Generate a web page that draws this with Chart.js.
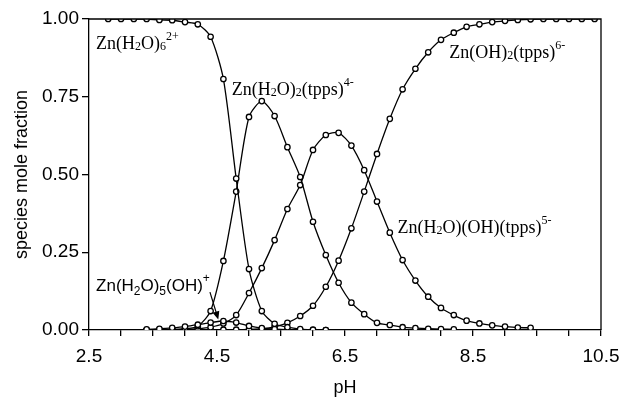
<!DOCTYPE html>
<html>
<head>
<meta charset="utf-8">
<script src="https://cdn.jsdelivr.net/npm/chart.js@4.4.1/dist/chart.umd.min.js"></script>
<style>
  html, body { margin: 0; padding: 0; background: #fff; }
  #myChart { display: block; }
</style>
</head>
<body>
<canvas id="myChart" width="621" height="398"></canvas>
<script>
// pH grid of the computed points
const phValues = [2.8, 3.0, 3.2, 3.4, 3.6, 3.8, 4.0, 4.2, 4.4, 4.6, 4.8, 5.0, 5.2, 5.4, 5.6, 5.8, 6.0, 6.2, 6.4, 6.6,
    6.8, 7.0, 7.2, 7.4, 7.6, 7.8, 8.0, 8.2, 8.4, 8.6, 8.8, 9.0, 9.2, 9.4, 9.6, 9.8, 10.0, 10.2, 10.4];

// Zn(H2O)6 2+
const hexaAqua = [1.0, 1.0, 1.0, 1.0, 0.997, 0.996, 0.99, 0.983, 0.943, 0.807, 0.487, 0.196, 0.061, 0.02, 0.009, 0.003, 0.001, 0.0,
    null, null, null, null, null, null, null, null, null, null, null, null, null, null, null, null, null, null, null, null, null];

// Zn(H2O)5(OH)+
const aquaHydroxo = [null, null, null, 0.002, 0.004, 0.007, 0.011, 0.017, 0.024, 0.029, 0.024, 0.013, 0.006, 0.003, 0.001, 0.0, 0.0, 0.0,
    null, null, null, null, null, null, null, null, null, null, null, null, null, null, null, null, null, null, null, null, null];

// Zn(H2O)2(tpps)4-
const diaquaTpps = [null, null, null, 0.0, 0.001, 0.002, 0.004, 0.012, 0.061, 0.222, 0.445, 0.685, 0.736, 0.688, 0.588, 0.492, 0.348, 0.241,
    0.152, 0.088, 0.051, 0.023, 0.016, 0.009, 0.006, 0.004, 0.003, 0.002,
    null, null, null, null, null, null, null, null, null, null, null];

// Zn(H2O)(OH)(tpps)5-
const aquaHydroxoTpps = [null, null, null, 0.0, 0.0, 0.001, 0.002, 0.004, 0.009, 0.021, 0.048, 0.119, 0.199, 0.289, 0.389, 0.466, 0.579, 0.627,
    0.634, 0.593, 0.514, 0.413, 0.313, 0.225, 0.159, 0.107, 0.071, 0.048, 0.03, 0.021, 0.015, 0.011, 0.008, 0.007,
    null, null, null, null, null];

// Zn(OH)2(tpps)6-
const dihydroxoTpps = [null, null, null, 0.0, 0.0, 0.0, 0.0, 0.0, 0.0, 0.001, 0.001, 0.002, 0.004, 0.01, 0.023, 0.045, 0.078, 0.139,
    0.223, 0.327, 0.445, 0.566, 0.679, 0.774, 0.84, 0.893, 0.933, 0.956, 0.975, 0.983, 0.99, 0.994, 0.997, 0.999,
    1.0, 1.0, 1.0, 1.0, 1.0];

const xTickValues = [2.5, 3.0, 3.5, 4.0, 4.5, 5.0, 5.5, 6.0, 6.5, 7.0, 7.5, 8.0, 8.5, 9.0, 9.5, 10.0, 10.5];
const xTickLabels = ['2.5', '', '', '', '4.5', '', '', '', '6.5', '', '', '', '8.5', '', '', '', '10.5'];

// species labels: [pH, fraction] of the text baseline start, parts: n = normal, sub, sup
const speciesLabels = [
    { x: 2.61, y: 0.905, family: 'serif', parts: [['Zn(H', 'n'], ['2', 'sub'], ['O)', 'n'], ['6', 'sub'], ['2+', 'sup']] },
    { x: 4.73, y: 0.757, family: 'serif', parts: [['Zn(H', 'n'], ['2', 'sub'], ['O)', 'n'], ['2', 'sub'], ['(tpps)', 'n'], ['4-', 'sup']] },
    { x: 8.13, y: 0.873, family: 'serif', parts: [['Zn(OH)', 'n'], ['2', 'sub'], ['(tpps)', 'n'], ['6-', 'sup']] },
    { x: 7.32, y: 0.313, family: 'serif', parts: [['Zn(H', 'n'], ['2', 'sub'], ['O)(OH)(tpps)', 'n'], ['5-', 'sup']] },
    { x: 2.61, y: 0.127, family: 'sans', parts: [['Zn(H', 'n'], ['2', 'sub'], ['O)', 'n'], ['5', 'sub'], ['(OH)', 'n'], ['+', 'sup']] }
];
const arrowFrom = [4.39, 0.122];
const arrowTo = [4.52, 0.034];

function toPoints(values) {
    let points = [];
    for (let i = 0; i < phValues.length; i++) {
        if (values[i] !== null) {
            points.push({ x: phValues[i], y: values[i] });
        }
    }
    return points;
}

function makeDataset(values) {
    return {
        data: toPoints(values),
        borderColor: '#000',
        borderWidth: 1.3,
        pointRadius: 2.7,
        pointBackgroundColor: '#fff',
        pointBorderColor: '#000',
        pointBorderWidth: 1.3,
        tension: 0.25,
        fill: false
    };
}

function drawRichText(ctx, label, px, py) {
    const size = label.family === 'serif' ? 18 : 17;
    const family = label.family === 'serif' ? '"Liberation Serif", "Times New Roman", serif' : '"Liberation Sans", Arial, sans-serif';
    let x = px;
    ctx.textBaseline = 'alphabetic';
    ctx.textAlign = 'left';
    ctx.fillStyle = '#000';
    label.parts.forEach(function (part) {
        let s = size;
        let dy = 0;
        if (part[1] === 'sub') {
            s = Math.round(size * 0.68);
            dy = label.family === 'serif' ? 1 : 4;
        } else if (part[1] === 'sup') {
            s = Math.round(size * 0.68);
            dy = -size * 0.5;
        }
        ctx.font = s + 'px ' + family;
        ctx.fillText(part[0], x, py + dy);
        x += ctx.measureText(part[0]).width;
    });
}

const labelPlugin = {
    id: 'speciesLabels',
    afterDraw: function (chart) {
        const ctx = chart.ctx;
        const xs = chart.scales.x;
        const ys = chart.scales.y;
        const area = chart.chartArea;
        ctx.save();
        // frame on top and right
        ctx.strokeStyle = '#000';
        ctx.lineWidth = 1.3;
        ctx.beginPath();
        ctx.moveTo(area.left, area.top);
        ctx.lineTo(area.right, area.top);
        ctx.lineTo(area.right, area.bottom);
        ctx.stroke();

        speciesLabels.forEach(function (label) {
            drawRichText(ctx, label, xs.getPixelForValue(label.x), ys.getPixelForValue(label.y));
        });

        // arrow
        const x1 = xs.getPixelForValue(arrowFrom[0]);
        const y1 = ys.getPixelForValue(arrowFrom[1]);
        const x2 = xs.getPixelForValue(arrowTo[0]);
        const y2 = ys.getPixelForValue(arrowTo[1]);
        const ang = Math.atan2(y2 - y1, x2 - x1);
        ctx.lineWidth = 1.2;
        ctx.beginPath();
        ctx.moveTo(x1, y1);
        ctx.lineTo(x2 - 6 * Math.cos(ang), y2 - 6 * Math.sin(ang));
        ctx.stroke();
        ctx.beginPath();
        ctx.moveTo(x2, y2);
        ctx.lineTo(x2 - 8 * Math.cos(ang) + 3.5 * Math.sin(ang), y2 - 8 * Math.sin(ang) - 3.5 * Math.cos(ang));
        ctx.lineTo(x2 - 8 * Math.cos(ang) - 3.5 * Math.sin(ang), y2 - 8 * Math.sin(ang) + 3.5 * Math.cos(ang));
        ctx.closePath();
        ctx.fillStyle = '#000';
        ctx.fill();
        ctx.restore();
    }
};

const tickFont = { family: '"Liberation Sans", Arial, sans-serif', size: 19 };
const titleFont = { family: '"Liberation Sans", Arial, sans-serif', size: 18 };

const config = {
    type: 'line',
    data: {
        datasets: [
            makeDataset(hexaAqua),
            makeDataset(aquaHydroxo),
            makeDataset(diaquaTpps),
            makeDataset(aquaHydroxoTpps),
            makeDataset(dihydroxoTpps)
        ]
    },
    options: {
        responsive: false,
        animation: false,
        devicePixelRatio: 1,
        layout: { padding: { top: 19, right: 20, left: 0, bottom: 0 } },
        plugins: {
            legend: { display: false },
            tooltip: { enabled: false }
        },
        scales: {
            x: {
                type: 'linear',
                min: 2.5,
                max: 10.5,
                afterBuildTicks: function (axis) {
                    axis.ticks = xTickValues.map(function (v) { return { value: v }; });
                },
                afterFit: function (scale) {
                    scale.height = 68;
                    scale.paddingLeft = 0;
                    scale.paddingRight = 0;
                },
                ticks: {
                    autoSkip: false,
                    maxRotation: 0,
                    color: '#000',
                    font: tickFont,
                    padding: 9,
                    callback: function (value) {
                        const i = xTickValues.indexOf(value);
                        return i >= 0 ? xTickLabels[i] : '';
                    }
                },
                grid: { drawOnChartArea: false, drawTicks: true, tickLength: 6, color: '#000', lineWidth: 1.3 },
                border: { display: true, color: '#000', width: 1.3 },
                title: { display: true, text: 'pH', color: '#000', font: titleFont, padding: { top: 0, bottom: -1 } }
            },
            y: {
                min: 0,
                max: 1,
                afterFit: function (scale) {
                    scale.width = 89;
                    scale.paddingTop = 0;
                    scale.paddingBottom = 0;
                },
                ticks: {
                    stepSize: 0.25,
                    color: '#000',
                    font: tickFont,
                    padding: 3,
                    callback: function (value) { return value.toFixed(2); }
                },
                grid: { drawOnChartArea: false, drawTicks: true, tickLength: 7, color: '#000', lineWidth: 1.3 },
                border: { display: true, color: '#000', width: 1.3 },
                title: { display: true, text: 'species mole fraction', color: '#000', font: titleFont, padding: { top: 11, bottom: 0 } }
            }
        }
    },
    plugins: [labelPlugin]
};

window.onload = function () {
    new Chart(document.getElementById('myChart'), config);
};
</script>
</body>
</html>
